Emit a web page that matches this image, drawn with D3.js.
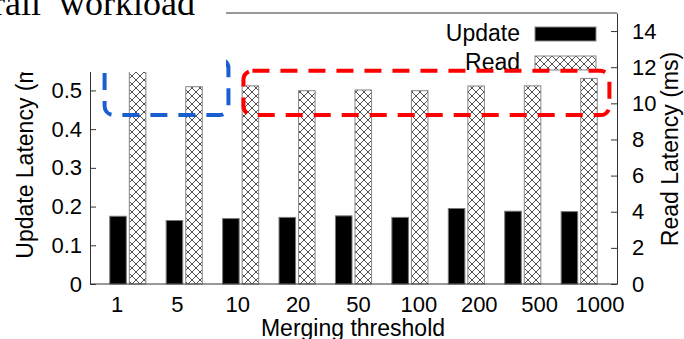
<!DOCTYPE html>
<html><head><meta charset="utf-8">
<script src="https://cdn.jsdelivr.net/npm/d3@7"></script>
<style>
html,body{margin:0;padding:0;background:#fff;}
svg{display:block;}
</style></head>
<body>
<svg id="chart" width="684" height="339"></svg>
<script>
const categories = ["1","5","10","20","50","100","200","500","1000"];
const updateLatency = [0.175,0.164,0.169,0.172,0.176,0.172,0.195,0.188,0.187];
const readLatency = [12.6,10.92,10.97,10.70,10.74,10.70,10.96,10.97,11.38];
const leftTicks = [0,0.1,0.2,0.3,0.4,0.5];
const rightTicks = [0,2,4,6,8,10,12,14];
const seriesNames = ["Update","Read"];

const SANS = "'Liberation Sans', Arial, Helvetica, sans-serif";
const SERIF = "'Liberation Serif', 'Times New Roman', serif";

const svg = d3.select("#chart");
const L = 90, R = 617, T = 13, B = 284;

const x = d3.scaleBand().domain(categories).range([L,R]).paddingInner(0).paddingOuter(0.17);
const xs = d3.scaleBand().domain(seriesNames).range([0,x.bandwidth()]).paddingInner(0.154).paddingOuter(0.52);
const xl = d3.scalePoint().domain(categories).range([117,600]);
const yL = d3.scaleLinear().domain([0,0.7]).range([B,T]);
const yR = d3.scaleLinear().domain([0,15]).range([B,T]);

// hatch pattern
const defs = svg.append("defs");
const pat = defs.append("pattern").attr("id","hatch").attr("patternUnits","userSpaceOnUse")
  .attr("width",8).attr("height",8);
pat.append("rect").attr("width",8).attr("height",8).attr("fill","#fff");
pat.append("path").attr("d","M-2,-2L10,10M-2,10L10,-2").attr("stroke","#222").attr("stroke-width",0.8);

// bars
const data = categories.map((c,i)=>({c, u:updateLatency[i], r:readLatency[i]}));
svg.append("g").selectAll("rect").data(data).join("rect")
  .attr("x",d=>x(d.c)+xs("Update")).attr("width",xs.bandwidth())
  .attr("y",d=>yL(d.u)).attr("height",d=>B-yL(d.u))
  .attr("fill","#000").attr("stroke","#777").attr("stroke-width",1);
svg.append("g").selectAll("rect").data(data).join("rect")
  .attr("x",d=>x(d.c)+xs("Read")).attr("width",xs.bandwidth())
  .attr("y",d=>yR(d.r)).attr("height",d=>B-yR(d.r))
  .attr("fill","url(#hatch)").attr("stroke","#888").attr("stroke-width",1);

// frame
svg.append("line").attr("x1",L).attr("x2",R).attr("y1",T).attr("y2",T).attr("stroke","#333").attr("stroke-width",1);
svg.append("line").attr("x1",L).attr("x2",R).attr("y1",B).attr("y2",B).attr("stroke","#333").attr("stroke-width",1);

// axes
const gl = svg.append("g").attr("transform",`translate(${L},0)`)
  .call(d3.axisLeft(yL).tickValues(leftTicks).tickFormat(d3.format("~g")).tickSizeInner(-6).tickSizeOuter(0).tickPadding(8));
const gr = svg.append("g").attr("transform",`translate(${R},0)`)
  .call(d3.axisRight(yR).tickValues(rightTicks).tickSizeInner(-6).tickSizeOuter(0).tickPadding(15));
[gl,gr].forEach(g=>{
  g.selectAll("text").style("font-size","22px").style("font-family",SANS).attr("fill","#000");
  g.selectAll("line,path").attr("stroke","#333");
});

// x tick labels
svg.append("g").selectAll("text").data(categories).join("text")
  .attr("x",d=>xl(d)).attr("y",312).attr("text-anchor","middle")
  .style("font-size","22px").style("font-family",SANS).text(d=>d);

// axis titles
svg.append("text").attr("text-anchor","middle").style("font-size","23px").style("font-family",SANS)
  .attr("transform",`translate(353,336)`).text("Merging threshold");
svg.append("text").attr("text-anchor","middle").style("font-size","23px").style("font-family",SANS)
  .attr("transform",`translate(33,152) rotate(-90)`).text("Update Latency (ms)");
svg.append("text").attr("text-anchor","middle").style("font-size","23px").style("font-family",SANS)
  .attr("transform",`translate(678,149) rotate(-90)`).text("Read Latency (ms)");

// legend
const lg = svg.append("g");
seriesNames.forEach((s,i)=>{
  const yy = 27 + i*29;
  lg.append("text").attr("x",520).attr("y",yy+14).attr("text-anchor","end")
    .style("font-size","23px").style("font-family",SANS).text(s);
  lg.append("rect").attr("x",535).attr("y",yy).attr("width",61).attr("height",14)
    .attr("fill", i===0 ? "#000" : "url(#hatch)").attr("stroke","#888").attr("stroke-width",1);
});

// annotation boxes (dashed)
const boxes = [
  {color:"#1a5fd0", x0:x("1")+5, x1:x("10")+16, top:12.45, bottom:9.35},
  {color:"#ff0000", x0:x("10")+31, x1:x("1000")+x.bandwidth()+2, top:11.8, bottom:9.35}
];
boxes.forEach(b=>{
  svg.append("rect").attr("x",b.x0).attr("y",yR(b.top)).attr("width",b.x1-b.x0)
    .attr("height",yR(b.bottom)-yR(b.top)).attr("rx",9).attr("ry",9)
    .attr("fill","none").attr("stroke",b.color).attr("stroke-width",4).attr("stroke-dasharray","17,11");
});

// white mask top-left (title area) and title
svg.append("rect").attr("x",0).attr("y",0).attr("width",226).attr("height",72).attr("fill","#fff");
svg.append("text").attr("x",195).attr("y",15).attr("text-anchor","end")
  .style("font-family",SERIF).style("font-size","36px").style("white-space","pre")
  .text("Overall  workload");
</script>
</body></html>
